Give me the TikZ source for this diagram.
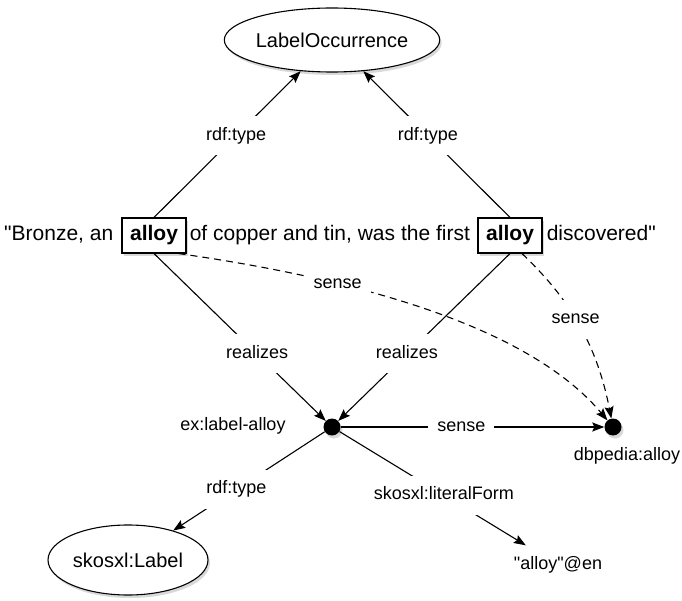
\documentclass[tikz,border=0pt]{standalone}
\usepackage{fontspec}
\setmainfont{Liberation Sans}[Ligatures=TeXOff]
\usetikzlibrary{shapes.geometric,arrows.meta,shadows}
\begin{document}
\begin{tikzpicture}[x=1pt,y=-1pt,
  shad/.style={drop shadow={shadow xshift=2pt,shadow yshift=-3pt,opacity=0.3}},
  lbl/.style={font=\fontsize{18}{20}\selectfont, text height=13pt, text depth=4pt, inner xsep=9pt, inner ysep=11pt},
  elbl/.style={lbl, fill=white},
  conn/.style={line width=1.1pt, draw=black},
  arr/.style={-{Stealth[length=12pt,width=9pt,inset=2pt]}},
  dsh/.style={dash pattern=on 7pt off 5pt},
  cls/.style={ellipse, draw, line width=1.1pt, fill=white, shad, inner sep=0pt, font=\fontsize{20}{24}\selectfont},
  wordbox/.style={rectangle, draw, line width=1.1pt, fill=white, shad, minimum width=64pt, minimum height=35pt, inner sep=0pt, font=\fontsize{21}{25}\selectfont\bfseries},
  sent/.style={inner sep=0pt, font=\fontsize{21}{25}\selectfont},
  dot/.style={circle, fill=black, shad, minimum size=17pt, inner sep=0pt}
]
\useasboundingbox (0,0) rectangle (682,601);

% nodes
\node[cls, minimum width=208pt, minimum height=64pt] (LO) at (332,40) {LabelOccurrence};
\node[wordbox] (a1) at (154,235.5) {alloy};
\node[wordbox] (a2) at (510,235.5) {alloy};
\node[sent, anchor=base east] (s1) at ([xshift=-8pt]a1.base west) {"Bronze, an};
\node[sent, anchor=base west] (s2) at ([xshift=3pt]a1.base east) {of copper and tin, was the first};
\node[sent, anchor=base west] (s3) at ([xshift=4pt]a2.base east) {discovered"};
\node[dot] (d1) at (332,427) {};
\node[dot] (d2) at (613,427) {};
\node[lbl] (exl) at (233,426) {ex:label-alloy};
\node[lbl] (dbl) at (627,456) {dbpedia:alloy};
\node[cls, minimum width=160pt, minimum height=70pt] (SL) at (128,560) {skosxl:Label};
\node[lbl] (lit) at (558,565) {"alloy"@en};

% dashed sense curves
\draw[conn, arr, dsh] ([xshift=-8pt]a1.south east) .. controls (400,285) and (540,340) .. node[elbl, pos=0.265] (e5) {sense} (d2);
\draw[conn, arr, dsh] ([xshift=12pt]a2.south) .. controls (562,292) and (595,335) .. node[elbl, pos=0.5] (e6) {sense} (d2);

% solid connectors
\draw[conn, arr] (a1.north) -- node[elbl, pos=0.56] (e1) {rdf:type} (LO);
\draw[conn, arr] (a2.north) -- node[elbl, pos=0.56] (e2) {rdf:type} (LO);
\draw[conn, arr] (a1.south) -- node[elbl, pos=0.6] (e3) {realizes} (d1);
\draw[conn, arr] (a2.south) -- node[elbl, pos=0.6] (e4) {realizes} (d1);
\draw[conn, arr] (d1) -- node[elbl, pos=0.458] (e7) {sense} (d2);
\draw[conn, arr] (d1) -- node[elbl, pos=0.583] (e8) {rdf:type} (SL);
\draw[conn, arr] (d1) -- node[elbl, pos=0.56] (e9) {skosxl:literalForm} (lit);
\end{tikzpicture}
\end{document}
